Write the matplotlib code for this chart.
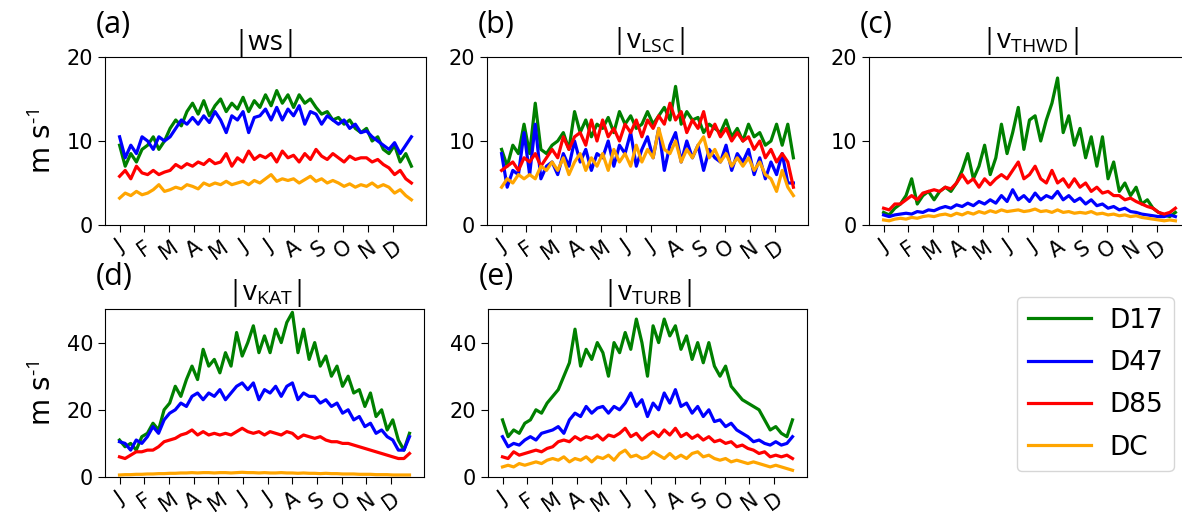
import numpy as np
import matplotlib
matplotlib.use("Agg")
import matplotlib.pyplot as plt

plt.rcParams['mathtext.fontset'] = 'custom'
plt.rcParams['mathtext.rm'] = 'Open Sans'
plt.rcParams['mathtext.it'] = 'Open Sans:italic'

# ---------------- data (weekly samples of daily series) ----------------
days = np.arange(0, 365, 7)
month_labels = ['J', 'F', 'M', 'A', 'M', 'J', 'J', 'A', 'S', 'O', 'N', 'D']
month_ticks = np.arange(12) * 31
series_names = ['D17', 'D47', 'D85', 'DC']
series_colors = ['green', 'blue', 'red', 'orange']

ws_d17 = [9.5, 7.0, 8.5, 7.5, 9.0, 9.5, 10.5, 9.0, 10.0, 11.5, 12.5, 11.8, 13.5,
          14.5, 13.2, 14.8, 13.0, 14.2, 15.0, 13.5, 14.5, 13.8, 15.2, 13.5, 14.8, 14.0,
          15.5, 14.2, 16.0, 14.5, 15.5, 14.0, 15.5, 14.5, 15.0, 14.0, 13.2, 13.5, 12.5,
          12.8, 12.0, 12.5, 11.5, 11.0, 11.5, 10.0, 10.5, 9.0, 8.5, 9.5, 7.5, 8.5, 7.0]
ws_d47 = [10.5, 8.0, 9.5, 8.5, 10.5, 10.0, 9.0, 10.5, 10.0, 10.5, 11.5, 12.5, 12.0,
          12.8, 12.0, 13.0, 12.2, 13.5, 12.5, 11.0, 13.0, 12.5, 13.5, 11.0, 12.8, 13.0,
          13.8, 12.5, 14.0, 12.5, 13.8, 13.0, 14.2, 12.0, 13.5, 13.2, 12.0, 13.0, 12.5,
          12.0, 12.5, 11.5, 12.0, 11.0, 11.2, 10.5, 10.0, 9.5, 9.0, 9.8, 8.5, 9.5, 10.5]
ws_d85 = [5.8, 6.5, 5.5, 7.0, 6.2, 6.0, 6.5, 6.0, 6.3, 6.5, 7.2, 6.8, 7.3,
          7.0, 7.5, 7.2, 7.8, 7.3, 7.5, 8.5, 7.0, 8.0, 7.5, 8.8, 7.8, 8.3,
          8.0, 8.5, 7.5, 8.8, 8.0, 8.3, 7.5, 8.5, 7.8, 9.0, 8.2, 7.8, 8.5,
          8.0, 7.5, 8.2, 7.8, 8.0, 8.0, 7.5, 7.8, 7.2, 6.8, 6.0, 6.5, 5.5, 5.0]
ws_dc = [3.2, 3.8, 3.5, 4.0, 3.6, 3.8, 4.2, 4.8, 4.0, 4.2, 4.5, 4.3, 4.8,
         4.6, 4.3, 5.0, 4.7, 5.0, 4.8, 5.2, 4.8, 5.0, 5.2, 4.8, 5.3, 5.0,
         5.5, 6.0, 5.2, 5.5, 5.3, 5.5, 5.0, 5.4, 5.8, 5.2, 5.5, 5.0, 5.3,
         5.0, 4.6, 4.9, 4.5, 4.8, 4.6, 5.0, 4.5, 4.8, 4.5, 3.8, 4.2, 3.5, 3.0]

lsc_d17 = [9.0, 7.0, 9.5, 8.5, 12.0, 8.5, 14.5, 9.0, 8.5, 9.5, 10.0, 11.0, 9.0,
           13.5, 11.0, 12.5, 10.5, 12.0, 11.5, 12.8, 11.0, 13.5, 12.0, 13.0, 11.5, 12.0,
           13.5, 12.0, 13.0, 14.0, 12.5, 16.5, 12.0, 13.5, 12.5, 12.8, 11.0, 12.0, 11.5,
           11.0, 12.5, 10.5, 11.5, 10.0, 12.0, 10.5, 11.0, 9.5, 10.0, 12.0, 9.5, 12.0, 8.0]
lsc_d47 = [8.5, 4.5, 6.5, 6.0, 11.0, 6.0, 12.0, 5.5, 7.0, 7.5, 6.0, 8.5, 7.0,
           10.0, 7.5, 9.0, 6.5, 8.5, 8.0, 10.0, 7.0, 9.5, 8.5, 11.0, 7.0, 9.0,
           10.5, 8.0, 11.5, 6.5, 9.5, 11.0, 7.5, 10.0, 8.0, 9.5, 6.5, 9.0, 8.0,
           7.5, 9.5, 6.5, 8.5, 7.5, 9.0, 6.0, 8.0, 5.5, 7.5, 6.0, 8.5, 5.0, 5.0]
lsc_d85 = [6.5, 7.0, 7.5, 6.5, 8.0, 7.5, 8.5, 7.0, 8.0, 9.0, 8.0, 10.5, 9.0,
           10.5, 11.0, 9.5, 12.5, 10.0, 12.5, 10.5, 11.5, 10.0, 12.0, 11.0, 12.5, 10.5,
           12.5, 11.5, 13.0, 12.0, 14.5, 12.5, 13.5, 11.0, 12.5, 11.5, 13.5, 10.5, 12.0,
           10.5, 11.5, 10.0, 11.0, 10.0, 10.5, 9.0, 10.0, 8.0, 9.0, 7.5, 8.5, 7.5, 4.5]
lsc_dc = [4.5, 5.5, 5.0, 6.0, 5.5, 6.0, 5.5, 7.0, 6.5, 7.5, 6.5, 8.0, 6.0,
          7.5, 8.5, 6.5, 8.0, 7.0, 8.5, 6.5, 9.0, 7.5, 8.5, 7.0, 9.5, 7.5,
          9.0, 8.0, 11.5, 9.0, 8.5, 10.0, 7.5, 9.0, 8.0, 9.5, 10.5, 8.0, 9.0,
          7.5, 8.5, 7.0, 8.0, 7.0, 8.0, 6.5, 7.5, 6.0, 5.5, 4.0, 6.5, 4.5, 3.5]

thwd_d17 = [1.5, 1.2, 2.0, 2.5, 3.5, 5.5, 2.5, 3.5, 4.0, 3.0, 4.0, 4.5, 4.0,
            5.0, 6.5, 8.5, 5.5, 7.0, 9.5, 6.0, 8.0, 12.0, 8.5, 11.0, 14.0, 9.0,
            12.5, 13.0, 10.0, 12.5, 14.5, 17.5, 11.0, 13.0, 9.5, 11.5, 8.0, 10.5, 7.0,
            10.5, 5.5, 7.5, 4.0, 5.0, 3.5, 4.5, 2.5, 3.0, 2.0, 1.5, 1.2, 1.0, 1.5]
thwd_d47 = [1.2, 1.0, 1.2, 1.3, 1.4, 1.3, 1.6, 1.5, 1.8, 1.7, 2.0, 2.2, 2.0,
            2.4, 2.2, 2.6, 2.3, 2.8, 2.5, 3.0, 2.6, 3.5, 2.8, 4.2, 3.0, 3.5,
            2.8, 3.8, 3.0, 3.5, 3.2, 4.0, 3.0, 3.5, 2.8, 3.2, 2.5, 3.0, 2.3,
            2.5, 2.0, 2.2, 1.8, 2.0, 1.6, 1.5, 1.3, 1.2, 1.1, 1.0, 1.0, 1.2, 1.0]
thwd_d85 = [2.0, 1.8, 2.5, 2.5, 3.0, 3.5, 3.0, 3.8, 4.0, 4.2, 4.0, 4.5, 4.3,
            5.0, 6.0, 5.0, 5.5, 4.5, 5.5, 4.8, 5.5, 6.0, 5.5, 6.5, 7.5, 5.5,
            6.0, 7.0, 5.5, 5.0, 6.5, 5.0, 5.5, 4.5, 5.5, 4.5, 5.0, 4.0, 4.5,
            3.8, 4.0, 3.5, 3.5, 3.0, 3.2, 2.8, 2.5, 2.2, 2.0, 1.5, 1.3, 1.5, 2.0]
thwd_dc = [0.6, 0.5, 0.7, 0.8, 0.7, 0.9, 0.8, 1.0, 1.1, 1.0, 1.2, 1.3, 1.1,
           1.4, 1.2, 1.5, 1.3, 1.6, 1.4, 1.7, 1.5, 1.8, 1.6, 1.7, 1.8, 1.6,
           1.7, 1.9, 1.6, 1.7, 1.5, 1.8, 1.5, 1.6, 1.4, 1.5, 1.4, 1.6, 1.3,
           1.4, 1.2, 1.3, 1.1, 1.2, 1.0, 1.1, 0.9, 0.8, 0.7, 0.6, 0.5, 0.6, 0.5]

kat_d17 = [11, 9, 10, 8, 12, 13, 16, 14, 20, 22, 27, 24, 29,
           33, 29, 38, 33, 35, 31, 37, 33, 43, 36, 40, 45, 37,
           42, 37, 44, 40, 46, 49, 37, 44, 35, 40, 33, 36, 30,
           33, 27, 30, 25, 26, 21, 25, 18, 20, 14, 17, 11, 8, 13]
kat_d47 = [10.5, 10, 8, 11, 10, 12, 15, 13, 17, 19, 20, 22, 21,
           24, 25, 23, 25, 24, 26, 23, 25, 27, 28, 26, 28, 23,
           26, 25, 27, 24, 27, 28, 23, 25, 24, 24, 22, 23, 21,
           22, 19, 20, 17, 18, 15, 16, 13, 14, 12, 11, 8, 8, 12]
kat_d85 = [6, 5.5, 6.5, 7.5, 7.5, 8, 8, 9, 10.5, 11, 11.5, 12.5, 13,
           14, 12.5, 13.5, 12.5, 13, 12.5, 13, 12.5, 13.5, 14.5, 13.5, 13, 13.5,
           12.5, 13.5, 13, 12.5, 13.5, 13, 11.5, 12.5, 12, 11.5, 12, 11, 10.5,
           10.5, 10, 10, 9.5, 9, 8.5, 8, 7.5, 7, 6.5, 6, 5.5, 5.5, 7]
kat_dc = [0.6, 0.7, 0.7, 0.8, 0.8, 0.9, 0.9, 1.0, 1.0, 1.1, 1.1, 1.2, 1.2,
          1.3, 1.2, 1.3, 1.3, 1.2, 1.3, 1.3, 1.2, 1.3, 1.4, 1.3, 1.3, 1.2,
          1.3, 1.2, 1.2, 1.3, 1.2, 1.2, 1.1, 1.2, 1.1, 1.1, 1.0, 1.1, 1.0,
          1.0, 0.9, 0.9, 0.9, 0.8, 0.8, 0.8, 0.7, 0.7, 0.7, 0.6, 0.6, 0.6, 0.6]

turb_d17 = [17, 12, 14, 13, 16, 17, 20, 19, 22, 24, 26, 30, 34,
            44, 33, 38, 35, 40, 37, 30, 40, 37, 43, 38, 47, 40,
            30, 45, 40, 47, 42, 45, 38, 42, 35, 40, 34, 40, 33,
            30, 33, 27, 25, 23, 22, 21, 20, 17, 14, 15, 13, 12, 17]
turb_d47 = [12, 9, 10, 9.5, 11, 12, 11, 13, 13.5, 14, 15, 13, 17,
            19, 18, 21, 19, 20.5, 21, 19, 21, 20, 22, 25, 21, 23,
            18, 22, 20, 25, 22, 26, 21, 22, 19, 21, 18, 20, 16.5,
            17, 15, 16, 14, 13, 12, 10.5, 11, 10, 9.5, 10.5, 9.5, 10, 12]
turb_d85 = [6, 5.5, 7.5, 6.5, 7, 7.5, 8, 7.5, 8.5, 9, 10.5, 11, 10.5,
            12, 11, 12, 11.5, 12.5, 11, 12.5, 12, 13, 14.5, 12, 13, 11,
            12.5, 13.5, 12, 14, 12.5, 14.5, 12, 13, 11.5, 12.5, 11, 12, 10.5,
            11, 10, 10.5, 9, 9.5, 8.5, 8, 7, 7.5, 6, 6.5, 6, 6.5, 5.5]
turb_dc = [3, 3.5, 3, 4, 3.5, 4, 4.5, 4, 5, 5.5, 5, 6, 4.5,
           5.5, 5, 6, 4.5, 6, 5.5, 6.5, 5, 7, 8, 6, 6.5, 5.5,
           6, 7.5, 6.5, 5.5, 7, 5.5, 6.5, 5.5, 7, 7.5, 6, 6.5, 5.5,
           5, 5.5, 4.5, 5, 4.5, 4, 4.5, 4, 3.5, 3, 3.5, 3, 2.5, 2]

panel_letters = ['(a)', '(b)', '(c)', '(d)', '(e)']
panel_titles = ['|ws|', r'|v$_{\mathrm{LSC}}$|', r'|v$_{\mathrm{THWD}}$|',
                r'|v$_{\mathrm{KAT}}$|', r'|v$_{\mathrm{TURB}}$|']
panel_ylims = [20, 20, 20, 50, 50]
panel_yticks = [[0, 10, 20], [0, 10, 20], [0, 10, 20], [0, 20, 40], [0, 20, 40]]
panel_data = [
    [ws_d17, ws_d47, ws_d85, ws_dc],
    [lsc_d17, lsc_d47, lsc_d85, lsc_dc],
    [thwd_d17, thwd_d47, thwd_d85, thwd_dc],
    [kat_d17, kat_d47, kat_d85, kat_dc],
    [turb_d17, turb_d47, turb_d85, turb_dc],
]

# ---------------- layout (pixel boxes) ----------------
W, H = 1182, 523
fig = plt.figure(figsize=(W / 100, H / 100), dpi=100)
boxes = [(105, 57, 321, 168), (487, 57, 321, 168), (869, 57, 321, 168),
         (105, 309, 319, 168), (488, 309, 319, 168)]

handles = []
for k, (x0, y0, w, h) in enumerate(boxes):
    ax = fig.add_axes([x0 / W, 1 - (y0 + h) / H, w / W, h / H])
    for vals, name, col in zip(panel_data[k], series_names, series_colors):
        ln, = ax.plot(days, vals, color=col, lw=2.3, label=name)
        if k == 0:
            handles.append(ln)
    ax.set_ylim(0, panel_ylims[k])
    ax.set_yticks(panel_yticks[k])
    ax.set_xticks(month_ticks)
    ax.set_xticklabels(month_labels, rotation=35)
    ax.tick_params(labelsize=15, length=5)
    ax.set_title(panel_titles[k], fontsize=20, family='Open Sans', pad=1)
    if k in (0, 3):
        ax.set_ylabel('m s$^{\\text{-}1}$', fontsize=20, labelpad=7)
    fig.text((x0 - 9) / W, 1 - (y0 - 24) / H, panel_letters[k], fontsize=22,
             family='Open Sans', ha='left', va='baseline')

fig.legend(handles=handles, loc='upper left',
           bbox_to_anchor=(1017 / W, 1 - 297 / H), fontsize=19,
           handlelength=2.4, handletextpad=0.7, labelspacing=0.62,
           borderaxespad=0)

fig.savefig('out.png', dpi=100)
